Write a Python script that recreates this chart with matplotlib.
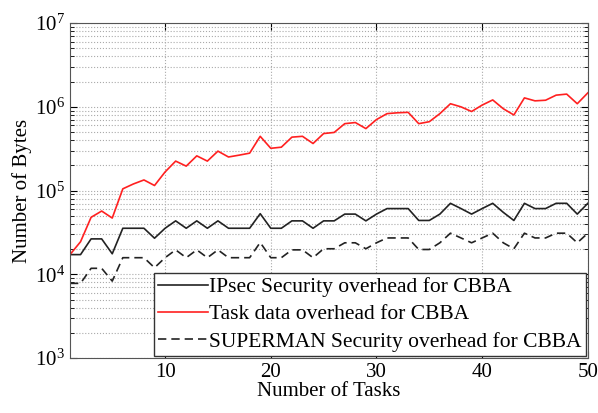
import matplotlib
matplotlib.use("Agg")
import matplotlib.pyplot as plt
from matplotlib.ticker import LogLocator, NullFormatter

plt.rcParams['font.family'] = ['Liberation Serif', 'DejaVu Serif']
plt.rcParams['mathtext.fontset'] = 'custom'
plt.rcParams['mathtext.rm'] = 'Liberation Serif'

# Data
tasks = list(range(1, 51))

task_data = [17200, 24500, 48000, 57000, 47000, 105000, 120000, 134000, 115000, 167000,
             225000, 196000, 260000, 225000, 296000, 252000, 265000, 280000, 445000, 320000,
             330000, 435000, 445000, 365000, 480000, 495000, 630000, 650000, 550000, 705000,
             830000, 850000, 860000, 630000, 665000, 830000, 1090000, 1000000, 880000, 1050000,
             1210000, 950000, 800000, 1280000, 1180000, 1200000, 1380000, 1420000, 1090000, 1470000]

ipsec = [17200, 17200, 26500, 26500, 17600, 35500, 35500, 35500, 27000, 35500,
         43500, 35500, 43500, 35500, 43500, 35500, 35500, 35500, 53000, 35500,
         35500, 43500, 43500, 35500, 43500, 43500, 52400, 52400, 43500, 52400,
         61000, 61000, 61000, 44000, 44000, 52400, 70500, 61000, 52400, 61000,
         70500, 55000, 44000, 70500, 61000, 61000, 70500, 70500, 52400, 70500]

superman = [7800, 7800, 11800, 11800, 8300, 15800, 15800, 15800, 12000, 15800,
            19600, 15800, 19600, 15800, 19600, 15800, 15800, 15800, 24000, 15800,
            15800, 19600, 19600, 15800, 20200, 20200, 23800, 23800, 20200, 23800,
            27200, 27200, 27200, 19800, 19800, 23800, 31000, 27200, 23800, 27200,
            31000, 23800, 20200, 31000, 27200, 27200, 31000, 31000, 23800, 31000]

fig = plt.figure(figsize=(5.98, 4.13), dpi=100)
ax = fig.add_axes([0.117, 0.133, 0.866, 0.811])

ax.plot(tasks, ipsec, color='#222222', lw=1.2, label='IPsec Security overhead for CBBA')
ax.plot(tasks, task_data, color='#ff2020', lw=1.2, label='Task data overhead for CBBA')
ax.plot(tasks, superman, color='#222222', lw=1.2, ls=(0, (5, 3)),
        label='SUPERMAN Security overhead for CBBA')

ax.set_yscale('log')
ax.set_xlim(1, 50)
ax.set_ylim(1e3, 1e7)
ax.set_xticks([10, 20, 30, 40, 50])
ax.yaxis.set_major_locator(LogLocator(base=10, numticks=10))
ax.yaxis.set_minor_locator(LogLocator(base=10, subs=range(2, 10), numticks=10))
ax.yaxis.set_minor_formatter(NullFormatter())

ax.grid(True, which='major', ls=':', color='#aaaaaa', lw=0.8)
ax.grid(True, which='minor', axis='y', ls=':', color='#aaaaaa', lw=0.8)
ax.tick_params(which='both', direction='in', top=True, right=True, labelsize=15)
ax.tick_params(which='major', length=5)
ax.tick_params(which='minor', length=3)
for s in ax.spines.values():
    s.set_color('#555555')

ax.set_xlabel('Number of Tasks', fontsize=15, labelpad=0)
ax.set_ylabel('Number of Bytes', fontsize=15, labelpad=2)

leg = ax.legend(loc='lower right', fontsize=15.5, handlelength=2.3, handletextpad=0.05,
                borderpad=0.2, labelspacing=0.33, fancybox=False, framealpha=1,
                borderaxespad=0.1)
leg.get_frame().set_edgecolor('#333333')
leg.get_frame().set_linewidth(1.0)

fig.savefig('out.png', dpi=100)
